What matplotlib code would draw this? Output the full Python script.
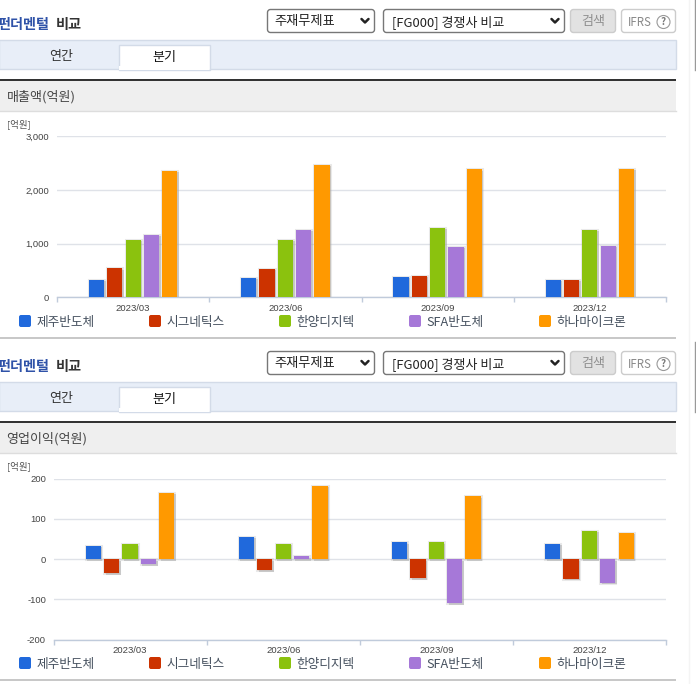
import matplotlib
matplotlib.use('Agg')
import matplotlib.pyplot as plt
import matplotlib.patheffects as pe
from matplotlib.patches import Rectangle, FancyBboxPatch, Circle
import numpy as np

plt.rcParams['font.family'] = ['Noto Sans CJK KR', 'DejaVu Sans']

# data
periods = ['2023/03', '2023/06', '2023/09', '2023/12']
companies = ['제주반도체', '시그네틱스', '한양디지텍', 'SFA반도체', '하나마이크론']
colors = ['#2069dc', '#cc3300', '#8bc20e', '#a678d8', '#ff9900']

sales_jeju = [327, 365, 384, 327]
sales_signetics = [545, 530, 400, 325]
sales_hanyang = [1075, 1075, 1300, 1262]
sales_sfa = [1170, 1262, 945, 962]
sales_hana = [2365, 2470, 2385, 2400]

op_jeju = [34, 56, 42, 39]
op_signetics = [-35, -27, -47, -49]
op_hanyang = [37, 39, 42, 71]
op_sfa = [-13, 7, -110, -59]
op_hana = [165, 183, 156, 66]

sales = [sales_jeju, sales_signetics, sales_hanyang, sales_sfa, sales_hana]
op = [op_jeju, op_signetics, op_hanyang, op_sfa, op_hana]

W, H = 696, 684
GRID = '#dfe2e8'
AXIS = '#c0cbdb'
TXT = '#333333'


def px(n):
    # font size in pixels -> points at dpi 100
    return n * 0.72


fig = plt.figure(figsize=(W / 100, H / 100), dpi=100, facecolor='white')
bg = fig.add_axes([0, 0, 1, 1])
bg.set_xlim(0, W)
bg.set_ylim(H, 0)
bg.axis('off')


def box(x0, y0, x1, y1, fc='white', ec='#777777', lw=1.0, r=3):
    bg.add_patch(FancyBboxPatch((x0 + r, y0 + r), x1 - x0 - 2 * r, y1 - y0 - 2 * r,
                                boxstyle=f'round,pad={r},rounding_size={r}',
                                fc=fc, ec=ec, lw=lw))


def chevron(x, y):
    bg.plot([x - 3.5, x, x + 3.5], [y - 2, y + 1.5, y - 2], color='#222222', lw=1.8,
            solid_capstyle='round')


def panel(dy, header):
    # title
    bg.text(-3, 25.5 + dy, '펀더멘털', color='#2f52a8', fontsize=px(14.2), fontweight='bold',
            va='center', ha='left')
    bg.text(56, 25.5 + dy, '비교', color='#333333', fontsize=px(14.2), fontweight='bold',
            va='center', ha='left')
    # selects
    box(267.5, 9.5 + dy, 374.5, 32.5 + dy)
    bg.text(274, 22 + dy, '주재무제표', color='#222222', fontsize=px(13.2), va='center')
    chevron(365, 21 + dy)
    box(383.5, 9.5 + dy, 564.5, 32.5 + dy)
    bg.text(392, 22 + dy, '[FG000] 경쟁사 비교', color='#222222', fontsize=px(13), va='center')
    chevron(555, 21 + dy)
    box(570.5, 9.5 + dy, 615.5, 32.5 + dy, fc='#e2e2e2', ec='#cccccc')
    bg.text(593, 21.5 + dy, '검색', color='#8f8f8f', fontsize=px(13), va='center', ha='center')
    box(621.5, 9.5 + dy, 675.5, 32.5 + dy, ec='#cccccc')
    bg.text(628, 22 + dy, 'IFRS', color='#888888', fontsize=px(11.5), va='center')
    bg.add_patch(Circle((663.5, 22 + dy), 6.5, fc='white', ec='#999999', lw=0.8))
    bg.text(663.5, 22 + dy, '?', color='#777777', fontsize=px(10), va='center', ha='center',
            fontweight='bold')
    # tabs
    bg.add_patch(Rectangle((-1, 39.5 + dy), 677, 29, fc='#e8eef8', ec='#d3dbe8', lw=1))
    bg.add_patch(Rectangle((118.5, 44.5 + dy), 91, 25, fc='white', ec='#d3dbe8', lw=1))
    bg.add_patch(Rectangle((119.2, 66 + dy), 89.6, 4, fc='white', ec='none'))
    bg.text(61, 56.5 + dy, '연간', color=TXT, fontsize=px(13), va='center', ha='center')
    bg.text(164, 57 + dy, '분기', color='#111111', fontsize=px(13), va='center', ha='center')
    # section header
    bg.add_patch(Rectangle((0, 81 + dy), 676, 30, fc='#efefef', ec='none'))
    bg.plot([0, 676], [111 + dy, 111 + dy], color='#dddddd', lw=1)
    bg.add_patch(Rectangle((0, 79 + dy), 676, 2.2, fc='#333333', ec='none'))
    bg.text(6.5, 97 + dy, header, color='#444444', fontsize=px(13), va='center')
    bg.text(7, 124 + dy, '[억원]', color='#555555', fontsize=px(9.5), va='center')
    # legend
    for name, col, sx in zip(companies, colors, [19, 149, 279, 409, 539]):
        box(sx, 315 + dy, sx + 12, 327 + dy, fc=col, ec='none', r=2)
        bg.text(sx + 17.5, 322.5 + dy, name, color='#45505e', fontsize=px(12.7), va='center')
    # bottom rule
    bg.add_patch(Rectangle((0, 336.8 + dy), 676, 2, fc='#c8c8c8', ec='none'))


def chart(x0, x1, ytop, ybot, ymin, ymax, yticks, series, ylabels, lab_x):
    ax = fig.add_axes([x0 / W, 1 - ybot / H, (x1 - x0) / W, (ybot - ytop) / H])
    ax.patch.set_alpha(0)
    ax.set_xlim(0, 4)
    ax.set_ylim(ymin, ymax)
    for sp in ['top', 'left', 'right']:
        ax.spines[sp].set_visible(False)
    ax.spines['bottom'].set_color(AXIS)
    ax.spines['bottom'].set_linewidth(1)
    ax.set_axisbelow(True)
    ax.yaxis.grid(True, color=GRID, lw=1)
    ax.xaxis.grid(False)
    ax.set_yticks(yticks)
    ax.set_yticklabels(ylabels, fontsize=px(9.5), color='#444444',
                       family=['Liberation Sans', 'DejaVu Sans'])
    ax.tick_params(axis='y', length=0, pad=(x0 - lab_x) * 0.72)
    ax.set_xticks(range(5))
    ax.set_xticklabels([])
    ax.tick_params(axis='x', which='major', length=3.5, color=AXIS, width=1)
    ax.set_xticks(np.arange(4) + 0.5, minor=True)
    ax.set_xticklabels(periods, minor=True, fontsize=px(9.5), color='#444444',
                       family=['Liberation Sans', 'DejaVu Sans'])
    ax.tick_params(axis='x', which='minor', length=0, pad=4.6)
    idx = np.arange(4) + 0.5
    for i, (vals, col) in enumerate(zip(series, colors)):
        bars = ax.bar(idx + (i - 2) * 0.12, vals, width=0.1, color=col, lw=0, zorder=3)
        for b in bars:
            b.set_path_effects([pe.Stroke(linewidth=2.2, foreground='#aaaaaa', alpha=0.25),
                                pe.SimplePatchShadow(offset=(1.1, -1.1), shadow_rgbFace='#aaaaaa',
                                                     alpha=0.5),
                                pe.Normal()])
    return ax


panel(0, '매출액(억원)')
panel(342, '영업이익(억원)')

chart(57, 666, 136.5, 297.3, 0, 3000, [0, 1000, 2000, 3000], sales,
      ['0', '1,000', '2,000', '3,000'], 49)
chart(53.5, 666, 478.7, 639.7, -200, 200, [-200, -100, 0, 100, 200], op,
      ['-200', '-100', '0', '100', '200'], 46)

# browser scrollbar remnants on the right
bg.plot([695, 695], [0, 70], color='#999999', lw=1)
bg.plot([695, 695], [342, 412], color='#999999', lw=1)
bg.plot([688.5, 688.5], [0, H], color='#f4f4f4', lw=1)

fig.savefig('out.png', dpi=100, facecolor='white')
